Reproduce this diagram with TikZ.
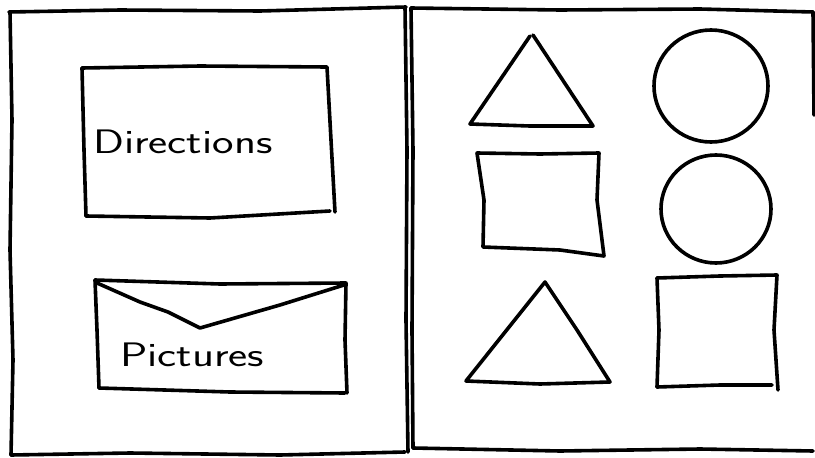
\documentclass[tikz,border=0pt]{standalone}
\usepackage{fontspec}
\begin{document}
\begin{tikzpicture}[x=1pt,y=-1pt,
  sk/.style={line width=3.6pt,line join=round,line cap=round,black},
  lbl/.style={font=\sffamily\fontsize{34}{34}\selectfont,inner sep=0pt,anchor=west,xscale=1.34}]
\useasboundingbox (0,0) rectangle (815,458);
% left panel
\draw[sk] (9,12) -- (120,10) -- (260,11) -- (406,7);
\draw[sk] (10,12) -- (12,120) -- (10,250) -- (13,360) -- (11,455);
\draw[sk] (11,455) -- (130,453) -- (280,455) -- (405,452);
\draw[sk] (405,7) -- (407,150) -- (406,320) -- (408,452);
% right panel
\draw[sk] (411,8) -- (560,10) -- (700,9) -- (813,12);
\draw[sk] (411,8) -- (413,150) -- (412,330) -- (413,448);
\draw[sk] (413,448) -- (560,451) -- (700,449) -- (813,451);
\draw[sk] (813,12) -- (814,115);
% Directions box
\draw[sk] (82,68) -- (200,66) -- (327,67) -- (331,140) -- (335,212);
\draw[sk] (86,216) -- (210,218) -- (330,211);
\draw[sk] (82,68) -- (84,150) -- (86,216);
\node[lbl] (dir) at (93,142) {Directions};
% Pictures box (envelope)
\draw[sk] (95,280) -- (220,284) -- (346,283) -- (345,340) -- (347,393);
\draw[sk] (99,388) -- (230,392) -- (345,393);
\draw[sk] (95,280) -- (97,330) -- (99,388);
\draw[sk] (97,283) -- (140,302) -- (168,312) -- (200,328) -- (280,305) -- (344,285);
\node[lbl] (pic) at (120,355) {Pictures};
% right panel shapes
\draw[sk] (530,36) -- (470,124) -- (530,126) -- (593,126) -- (533,35);
\draw[sk] (711,86) ellipse [x radius=57,y radius=56];
\draw[sk] (477,153) -- (540,154) -- (599,153) -- (597,200) -- (604,256) -- (560,250) -- (483,247) -- (484,200) -- cycle;
\draw[sk] (716,209) ellipse [x radius=55,y radius=54];
\draw[sk] (545,282) -- (466,381) -- (540,384) -- (610,382) -- (577,330) -- cycle;
\draw[sk] (657,278) -- (720,276) -- (777,275) -- (774,330) -- (778,390);
\draw[sk] (657,387) -- (720,385) -- (772,385);
\draw[sk] (657,278) -- (659,330) -- (657,387);
\end{tikzpicture}
\end{document}
